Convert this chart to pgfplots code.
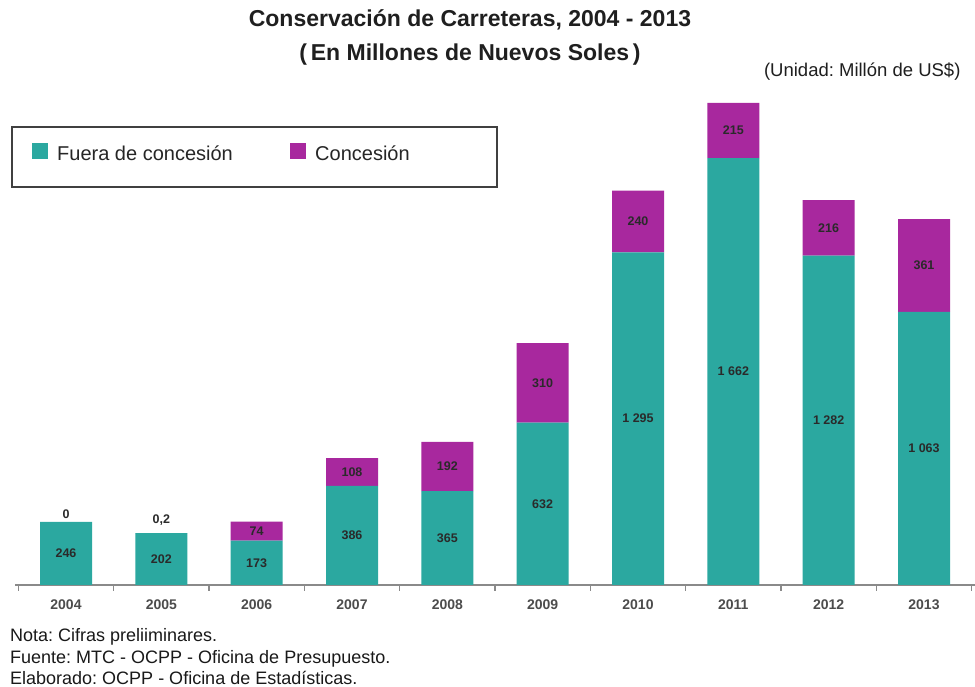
\documentclass[border=0pt]{standalone}
\usepackage{pgfplots}
\pgfplotsset{compat=1.18}
\usepackage{fontspec}
\setmainfont{Liberation Sans}
\frenchspacing
\definecolor{teal2}{HTML}{2BA8A0}
\definecolor{mag2}{HTML}{A8289E}
\definecolor{axgray}{HTML}{8A8A8A}
\definecolor{lab}{HTML}{2A2A2A}
\begin{document}
\begin{tikzpicture}[x=1pt,y=1pt]
\path[use as bounding box,fill=white] (0,0) rectangle (975,687);
% titles
\node[font=\fontsize{23}{27}\selectfont\bfseries,text=black!88] at (470,667) {Conservación de Carreteras, 2004 - 2013};
\node[font=\fontsize{23}{27}\selectfont\bfseries,text=black!88] at (470,632) {(\,En Millones de Nuevos Soles\,)};
\node[font=\fontsize{18.5}{22}\selectfont,text=black!88,anchor=east] at (964,615) {(Unidad: Millón de US\$)};
% legend frame
\draw[line width=1.8pt,draw=black!75] (12,500) rectangle (497,560);
\fill[teal2] (32,527.5) rectangle (48,543.5);
\node[anchor=west,inner sep=0pt,font=\fontsize{20}{24}\selectfont,text=black!85] at (57,534) {Fuera de concesión};
\fill[mag2] (290,527.5) rectangle (306,543.5);
\node[anchor=west,inner sep=0pt,font=\fontsize{20}{24}\selectfont,text=black!85] at (315,534) {Concesión};
% notes
\node[anchor=base west,inner sep=0pt,font=\fontsize{18}{22}\selectfont,text=black!90] at (10,45.5) {Nota: Cifras preliiminares.};
\node[anchor=base west,inner sep=0pt,font=\fontsize{18}{22}\selectfont,text=black!90] at (10,23.5) {Fuente: MTC - OCPP - Oficina de Presupuesto.};
\node[anchor=base west,inner sep=0pt,font=\fontsize{18}{22}\selectfont,text=black!90] at (10,2) {Elaborado: OCPP - Oficina de Estadísticas.};
\begin{axis}[
  at={(15pt,102pt)}, anchor=south west,
  scale only axis, width=960pt, height=488pt,
  xmin=-0.535, xmax=9.535, ymin=0, ymax=1900,
  axis y line=none, axis x line=bottom,
  x axis line style={-, draw=axgray, line width=1.5pt},
  ybar stacked, bar width=52pt,
  xtick={0,...,9},
  xticklabels={2004,2005,2006,2007,2008,2009,2010,2011,2012,2013},
  major tick length=0pt,
  minor xtick={-0.5,0.5,...,9.5},
  minor tick length=6pt, tick align=outside,
  minor tick style={draw=axgray, line width=1.2pt},
  xticklabel style={anchor=center, yshift=-20pt, font=\fontsize{14}{16}\selectfont\bfseries, text=black!70},
  clip=false,
]
\addplot[fill=teal2, draw=none] coordinates {(0,246) (1,202) (2,173) (3,386) (4,365) (5,632) (6,1295) (7,1662) (8,1282) (9,1063)};
\addplot[fill=mag2, draw=none] coordinates {(0,0) (1,0.2) (2,74) (3,108) (4,192) (5,310) (6,240) (7,215) (8,216) (9,361)};
\end{axis}
\begin{axis}[
  at={(15pt,102pt)}, anchor=south west,
  scale only axis, width=960pt, height=488pt,
  xmin=-0.535, xmax=9.535, ymin=0, ymax=1900,
  hide axis, clip=false,
]
\addplot[draw=none, mark=none, nodes near coords, point meta=explicit symbolic,
  every node near coord/.style={anchor=center, font=\fontsize{12.5}{14}\selectfont\bfseries, text=lab}]
  coordinates {(0,123)[246] (1,101)[202] (2,86.5)[173] (3,193)[386] (4,182.5)[365] (5,316)[632] (6,647.5)[1 295] (7,831)[1 662] (8,641)[1 282] (9,531.5)[1 063]};
\addplot[draw=none, mark=none, nodes near coords, point meta=explicit symbolic,
  every node near coord/.style={anchor=center, font=\fontsize{12.5}{14}\selectfont\bfseries, text=lab}]
  coordinates {(0,276)[0] (1,253)[0,2] (2,210)[74] (3,440)[108] (4,461)[192] (5,787)[310] (6,1415)[240] (7,1769.5)[215] (8,1390)[216] (9,1243.5)[361]};
\end{axis}
\end{tikzpicture}
\end{document}
